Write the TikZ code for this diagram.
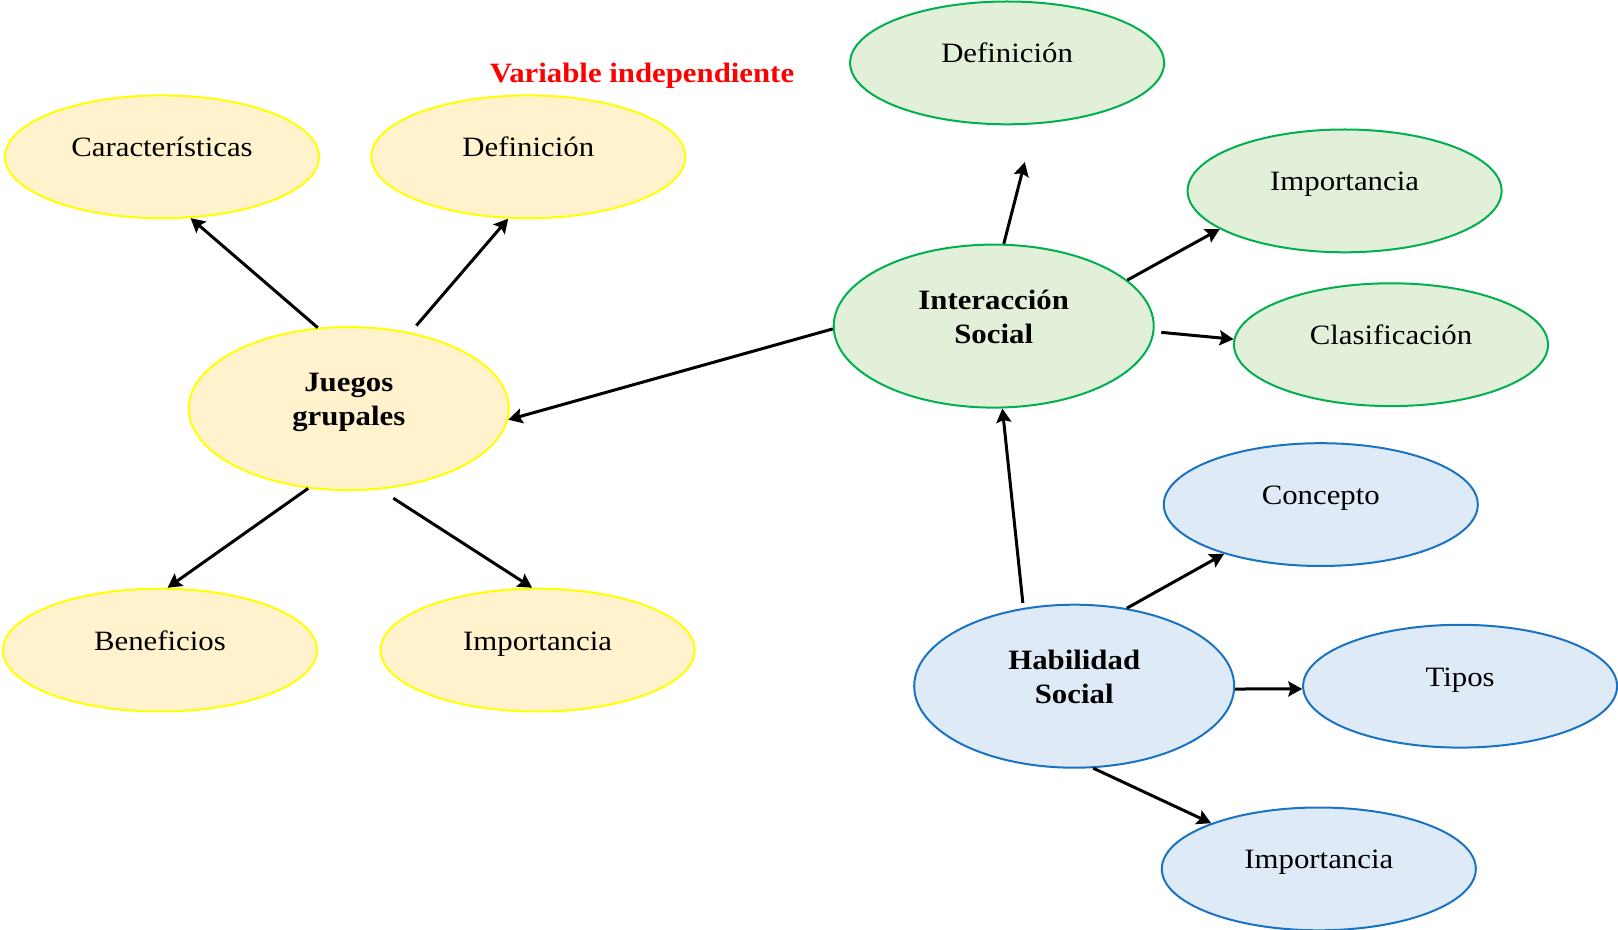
\documentclass[tikz,border=0pt]{standalone}
\usepackage{fontspec}
\setmainfont{Liberation Serif}[FakeStretch=1.1]
\usetikzlibrary{shapes.geometric,arrows.meta}
\definecolor{yfill}{HTML}{FFF2CC}
\definecolor{yline}{HTML}{FFFF00}
\definecolor{gfill}{HTML}{E2F0D9}
\definecolor{gline}{HTML}{00B050}
\definecolor{bfill}{HTML}{DEEBF7}
\definecolor{bline}{HTML}{1A73C2}
\definecolor{tred}{HTML}{FF0000}
\newcommand{\stt}{\rule[-4pt]{0pt}{14pt}}
\begin{document}
\begin{tikzpicture}[x=0.5pt,y=-0.5pt,
  oval/.style={ellipse, inner sep=0pt, line width=1pt},
  small/.style={oval, minimum width=157pt, minimum height=61.4pt},
  big/.style={oval, minimum width=160pt, minimum height=81.5pt},
  yel/.style={draw=yline, fill=yfill},
  grn/.style={draw=gline, fill=gfill},
  blu/.style={draw=bline, fill=bfill},
  lab/.style={font=\fontsize{14}{17}\selectfont, align=center, yshift=3pt, inner sep=0pt},
  blab/.style={lab, font=\fontsize{14}{17}\selectfont\bfseries},
  arr/.style={line width=1.5pt, -{Stealth[length=7pt,width=7.5pt,inset=1.2pt]}}
]
\useasboundingbox (0,0) rectangle (1618,930);

% title
\node[font=\fontsize{14}{17}\selectfont\bfseries, text=tred, anchor=base, inner sep=0pt] (title) at (642,82.5) {Variable independiente};

% yellow group
\node[small,yel,label={[lab]center:\stt Características}] (car) at (162,156.8) {};
\node[small,yel,label={[lab]center:\stt Definición}] (defY) at (528.3,156.8) {};
\node[big,yel,label={[blab]center:{\stt Juegos\\\stt grupales}}] (jg) at (348.8,408.6) {};
\node[small,yel,label={[lab]center:\stt Beneficios}] (ben) at (159.9,650.1) {};
\node[small,yel,label={[lab]center:\stt Importancia}] (impY) at (537.6,650.1) {};

% green group
\node[small,grn,label={[lab]center:\stt Definición}] (defG) at (1007.1,62.9) {};
\node[small,grn,label={[lab]center:\stt Importancia}] (impG) at (1344.6,190.9) {};
\node[big,grn,label={[blab]center:{\stt Interacción\\\stt Social}}] (is) at (993.7,326.1) {};
\node[small,grn,label={[lab]center:\stt Clasificación}] (cla) at (1391.0,344.7) {};

% blue group
\node[small,blu,label={[lab]center:\stt Concepto}] (con) at (1320.8,504.6) {};
\node[big,blu,label={[blab]center:{\stt Habilidad\\\stt Social}}] (hs) at (1074.2,686.2) {};
\node[small,blu,label={[lab]center:\stt Tipos}] (tip) at (1460.1,686.2) {};
\node[small,blu,label={[lab]center:\stt Importancia}] (impB) at (1318.8,868.9) {};

% arrows
\draw[arr] (jg.111) -- (car.295);
\draw[arr, shorten <=4.5pt] (jg.51.5) -- (defY.252);
\draw[arr] (jg.243) -- (ben.83);
\draw[arr, shorten <=8pt] (jg.291) -- (impY.95);
\draw[arr] (is.181.5) -- (jg.356);
\draw[arr, shorten >=19.5pt] (is.83) -- (defG.294);
\draw[arr] (is.19.5) -- (impG.197);
\draw[arr, shorten <=3.5pt] (is.358) -- (cla.178.5);
\draw[arr, shorten <=2.5pt] (hs.123) -- (is.276);
\draw[arr] (hs.56.5) -- (con.207);
\draw[arr] (hs.359) -- (tip.181);
\draw[arr] (hs.283) -- (impB.157);
\end{tikzpicture}
\end{document}
